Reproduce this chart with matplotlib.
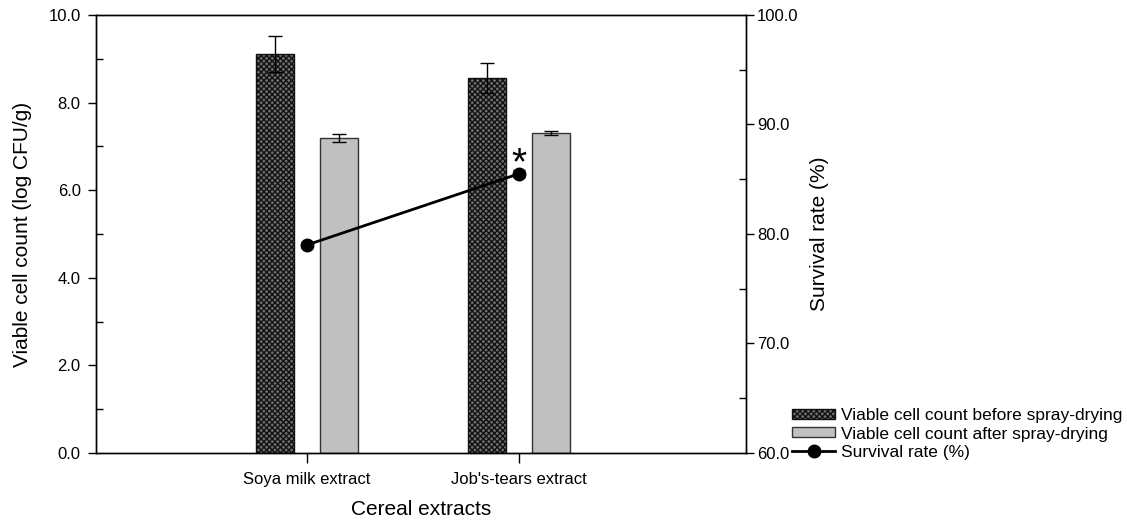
import matplotlib
matplotlib.use("Agg")
import matplotlib.pyplot as plt
from matplotlib.patches import Patch
from matplotlib.lines import Line2D
from matplotlib.ticker import MultipleLocator, FormatStrFormatter
import numpy as np

plt.rcParams['font.family'] = ['Liberation Sans', 'DejaVu Sans']
plt.rcParams['hatch.linewidth'] = 1.0

categories = ["Soya milk extract", "Job's-tears extract"]
before = [9.10, 8.56]
before_err = [0.41, 0.34]
after = [7.19, 7.31]
after_err = [0.09, 0.04]
survival = [79.0, 85.5]
survival_err = [0.3, 0.3]

fig = plt.figure(figsize=(11.27, 5.26), dpi=100)
ax = fig.add_axes([96/1127, 1-453/526, 650/1127, 438/526])

x = np.arange(len(categories))
w = 0.18
off = 0.15
hatch_face = '#6e6e6e'
ax.bar(x - off, before, w, facecolor=hatch_face, edgecolor='#111111', hatch='xxxxxx',
       linewidth=1.0, zorder=2)
ax.bar(x + off, after, w, facecolor='#c0c0c0', edgecolor='#333333', linewidth=1.0, zorder=2)
ax.errorbar(x - off, before, yerr=before_err, fmt='none', ecolor='black', elinewidth=1,
            capsize=5, capthick=1, zorder=3)
ax.errorbar(x + off, after, yerr=after_err, fmt='none', ecolor='black', elinewidth=1,
            capsize=5, capthick=1, zorder=3)

ax.set_xlim(-0.995, 2.071)
ax.set_ylim(0, 10)
ax.set_xticks(x)
ax.set_xticklabels(categories, fontsize=12)
ax.yaxis.set_major_locator(MultipleLocator(2))
ax.yaxis.set_minor_locator(MultipleLocator(1))
ax.yaxis.set_major_formatter(FormatStrFormatter('%.1f'))
ax.tick_params(axis='y', which='major', direction='out', length=6, width=1, labelsize=12, pad=5)
ax.tick_params(axis='y', which='minor', direction='in', length=5, width=1)
ax.tick_params(axis='x', which='major', direction='out', length=7, width=1, pad=7)
ax.set_ylabel("Viable cell count (log CFU/g)", fontsize=15, labelpad=12)
ax.set_xlabel("Cereal extracts", fontsize=15, labelpad=9)

ax2 = ax.twinx()
ax2.set_ylim(60, 100)
ax2.yaxis.set_major_locator(MultipleLocator(10))
ax2.yaxis.set_minor_locator(MultipleLocator(5))
ax2.yaxis.set_major_formatter(FormatStrFormatter('%.1f'))
ax2.tick_params(axis='y', which='major', direction='out', length=6, width=1, labelsize=12, pad=2)
ax2.tick_params(axis='y', which='minor', direction='in', length=5, width=1)
ax2.errorbar(x, survival, yerr=survival_err, fmt='-o', color='black', lw=2, ms=9,
             capsize=4, elinewidth=1, zorder=4)
ax2.text(x[1], 86.4, "*", ha='center', va='center', fontsize=28)
ax2.set_ylabel("Survival rate (%)", fontsize=15, labelpad=8)

for a in (ax, ax2):
    for s in a.spines.values():
        s.set_linewidth(1.0)

handles = [
    Patch(facecolor=hatch_face, edgecolor='#111111', hatch='xxxxxx', linewidth=1.0),
    Patch(facecolor='#c0c0c0', edgecolor='#333333', linewidth=1.0),
    Line2D([0], [0], color='black', lw=2, marker='o', ms=9),
]
labels = ["Viable cell count before spray-drying",
          "Viable cell count after spray-drying",
          "Survival rate (%)"]
fig.legend(handles, labels, loc='lower left', bbox_to_anchor=(792/1127, 1-460/526),
           frameon=False, fontsize=12.5, handlelength=2.5, handleheight=0.5,
           labelspacing=0.2, handletextpad=0.3, borderpad=0, borderaxespad=0)

fig.savefig("out.png", dpi=100)
